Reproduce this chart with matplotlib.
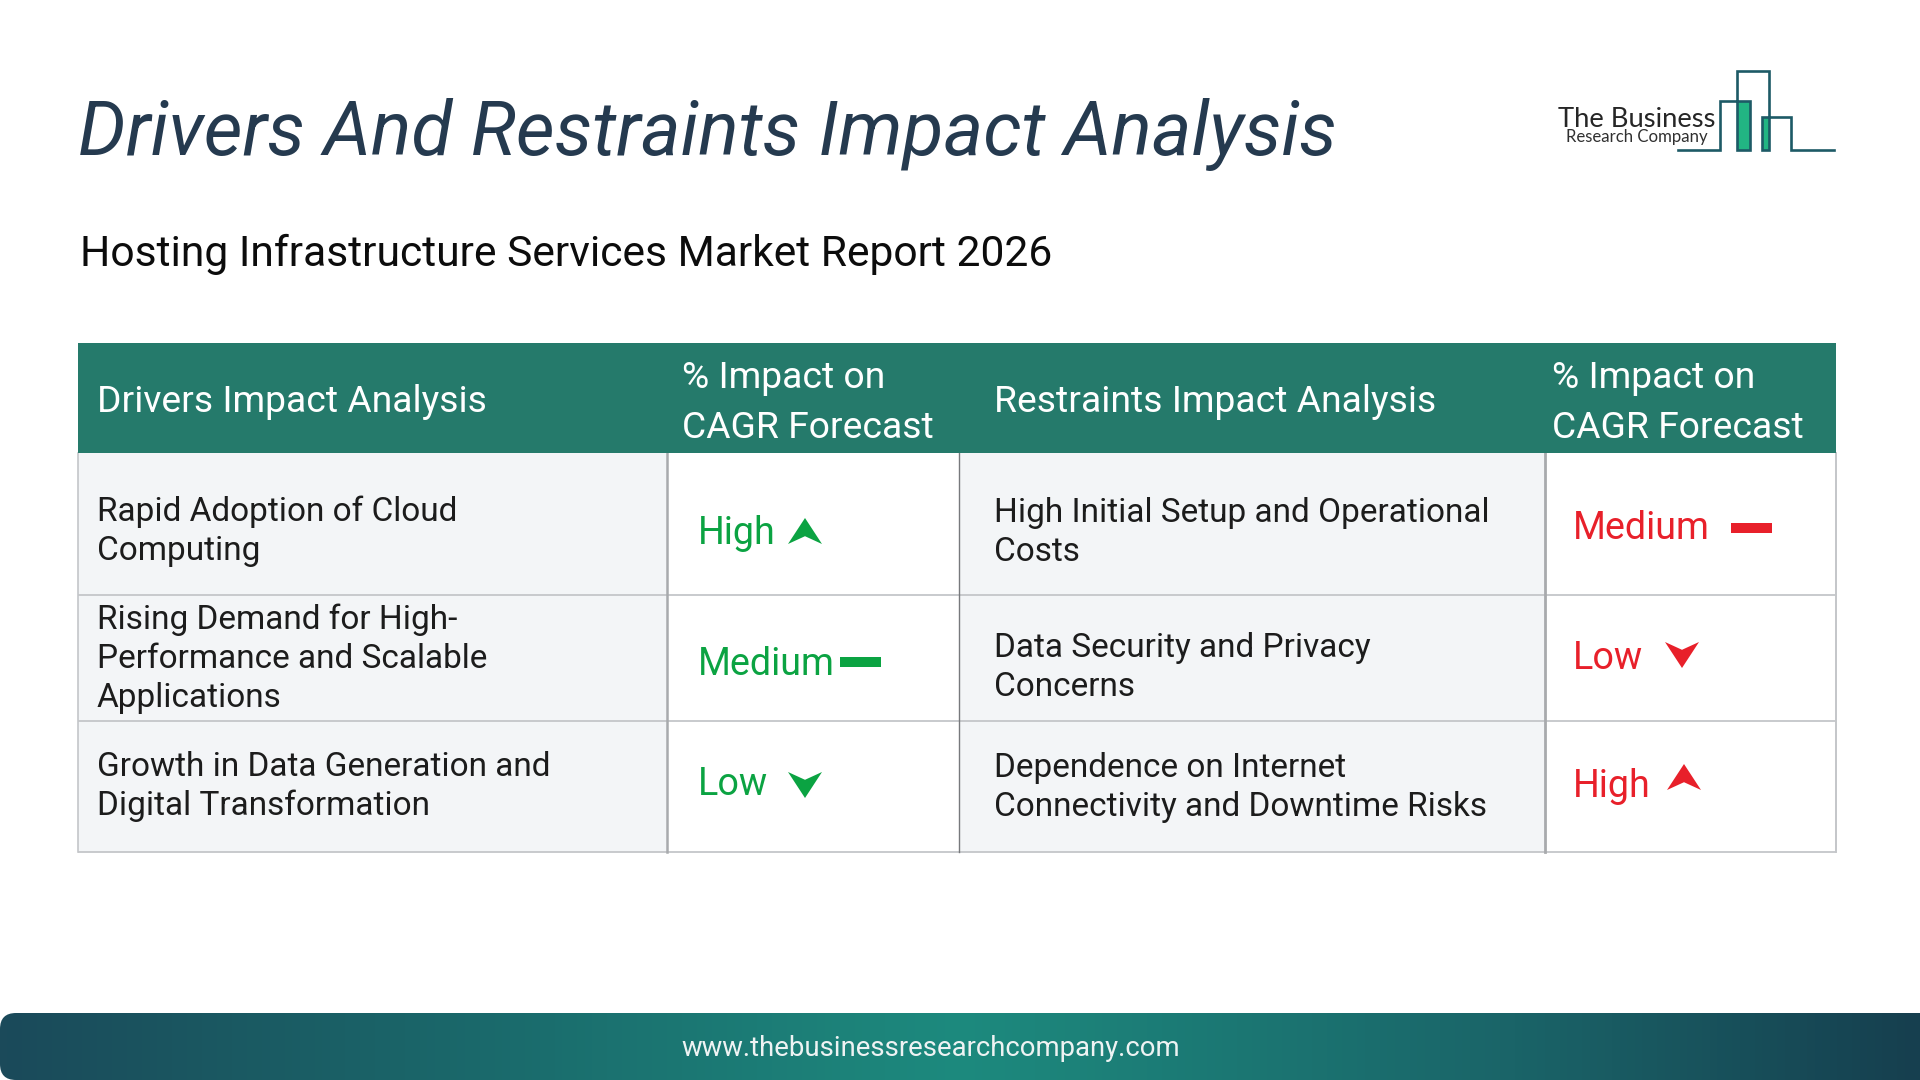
import numpy as np
import matplotlib
matplotlib.use("Agg")
import matplotlib.pyplot as plt
from matplotlib.patches import Rectangle, Polygon, FancyBboxPatch
from matplotlib.colors import LinearSegmentedColormap

title = "Drivers And Restraints Impact Analysis"
subtitle = "Hosting Infrastructure Services Market Report 2026"
headers = ["Drivers Impact Analysis", "% Impact on\nCAGR Forecast", "Restraints Impact Analysis", "% Impact on\nCAGR Forecast"]
drivers = ["Rapid Adoption of Cloud\nComputing",
           "Rising Demand for High-\nPerformance and Scalable\nApplications",
           "Growth in Data Generation and\nDigital Transformation"]
driver_impact = ["High", "Medium", "Low"]
restraints = ["High Initial Setup and Operational\nCosts",
              "Data Security and Privacy\nConcerns",
              "Dependence on Internet\nConnectivity and Downtime Risks"]
restraint_impact = ["Medium", "Low", "High"]
footer = "www.thebusinessresearchcompany.com"

plt.rcParams['font.family'] = ['Roboto', 'DejaVu Sans']
W, H = 1920, 1080
fig = plt.figure(figsize=(19.2, 10.8), dpi=100, facecolor='white')
ax = fig.add_axes([0, 0, 1, 1])
ax.set_xlim(0, W); ax.set_ylim(H, 0); ax.axis('off')

def px(s): return s * 0.72
def T(x, y, s, size, color, **kw):
    return ax.text(x, y, s, fontsize=px(size), color=color, va='baseline', ha=kw.pop('ha', 'left'), **kw)

GREEN = '#0ba342'; RED = '#e8202a'; DARK = '#1c1c1c'; HEAD = '#257a6b'
T(77.5, 155, title, 75.2, '#253a4f', style='italic')
T(80, 266, subtitle, 42.65, '#0c0c0c')

X = [77.5, 667, 959, 1545, 1836]
Ytop, Yhead = 343, 453
Y = [453, 594.5, 721, 852]
ax.add_patch(Rectangle((X[0], Y[0]), X[1]-X[0], Y[3]-Y[0], fc='#f3f5f7', ec='none'))
ax.add_patch(Rectangle((X[2], Y[0]), X[3]-X[2], Y[3]-Y[0], fc='#f3f5f7', ec='none'))
for y in Y[1:]:
    ax.plot([X[0], X[4]], [y, y], color='#c4c6c9', lw=1.3, solid_capstyle='butt')
ax.plot([X[0], X[0]], [Y[0], Y[3]], color='#c4c6c9', lw=1.2)
ax.plot([X[1], X[1]], [Y[0], Y[3]], color='#a8aaad', lw=1.8)
ax.plot([X[2], X[2]], [Y[0], Y[3]], color='#77797c', lw=1.0)
ax.plot([X[3], X[3]], [Y[0], Y[3]], color='#a8aaad', lw=2.0)
ax.plot([X[4], X[4]], [Y[0], Y[3]], color='#c4c6c9', lw=1.4)
ax.add_patch(Rectangle((X[0], Ytop), X[4]-X[0], Yhead-Ytop, fc=HEAD, ec='none', zorder=3))

HS, BS = 37.3, 33.37
T(97, 412.5, headers[0], HS, 'white', zorder=4)
T(994, 412.5, headers[2], HS, 'white', zorder=4)
for x, h in ((682, headers[1]), (1552, headers[3])):
    a, b = h.split('\n')
    T(x, 388.5, a, HS, 'white', zorder=4)
    T(x, 438.5, b, HS, 'white', zorder=4)

def block(x, y0, s):
    for i, l in enumerate(s.split('\n')):
        T(x, y0 + i*39, l, BS, DARK)
for s, y0 in zip(drivers, (521, 629, 776)):
    block(97, y0, s)
for s, y0 in zip(restraints, (522, 657, 777)):
    block(994, y0, s)

IS = 37.6
for s, y in zip(driver_impact, (544, 675, 795)):
    T(698, y, s, IS, GREEN)
for s, y in zip(restraint_impact, (539, 669, 797)):
    T(1573, y, s, IS, RED)

def up(x0, x1, tip, base, c):
    w = x1-x0
    ax.add_patch(Polygon([(x0, base), (x0+w/2, tip), (x1, base), (x0+w/2, base-0.3*(base-tip))], fc=c, ec='none'))
def down(x0, x1, top, tip, c):
    w = x1-x0
    ax.add_patch(Polygon([(x0, top), (x0+w/2, top+0.3*(tip-top)), (x1, top), (x0+w/2, tip)], fc=c, ec='none'))
up(788, 822, 518, 544, GREEN)
ax.add_patch(Rectangle((840, 657), 41, 10, fc=GREEN, ec='none'))
down(788, 822, 772, 798, GREEN)
ax.add_patch(Rectangle((1731, 523), 41, 10, fc=RED, ec='none'))
down(1665, 1699, 642, 668, RED)
up(1667, 1701, 764, 790, RED)

# logo
LC = '#1d5a66'; LF = '#22b583'
ax.add_patch(Rectangle((1737, 101), 13, 49, fc=LF, ec='none'))
ax.add_patch(Rectangle((1762, 117), 7, 33, fc=LF, ec='none'))
ax.plot([1678, 1720, 1720, 1750, 1750, 1737, 1737, 1769, 1769, 1762, 1762, 1791, 1791, 1834],
        [150, 150, 101, 101, 150, 150, 71, 71, 150, 150, 117, 117, 150, 150], color=LC, lw=1.9, solid_joinstyle='miter')
T(1558, 127, "The Business", 27.4, '#262626', family=['Lato'])
T(1566, 142, "Research Company", 16.7, '#303030', family=['Lato'])

# footer
cmap = LinearSegmentedColormap.from_list('f', [(0, '#1b4a5a'), (0.21, '#1a6468'), (0.5, '#1d8a7e'), (0.79, '#1a6468'), (1, '#163f4f')])
im = ax.imshow(np.linspace(0, 1, 512)[None, :], extent=(0, W, 1080, 1013), cmap=cmap, aspect='auto', zorder=1)
ax.set_xlim(0, W); ax.set_ylim(H, 0)
clip = FancyBboxPatch((0, 1013), W + 40, 67, boxstyle='round,pad=0,rounding_size=16', transform=ax.transData, fc='none', ec='none')
ax.add_patch(clip)
im.set_clip_path(clip)
T(931, 1056, footer, 27.5, '#eef3f3', ha='center', zorder=4)

fig.savefig('out.png', dpi=100)
